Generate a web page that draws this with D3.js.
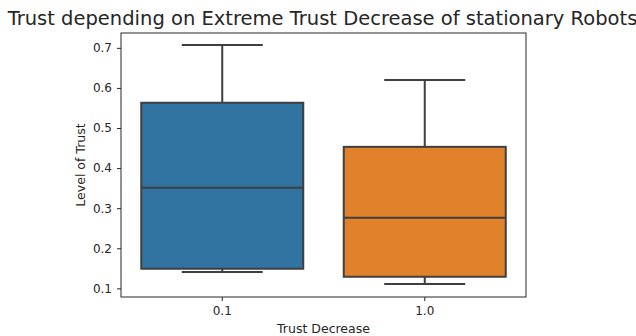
<!DOCTYPE html>
<html>
<head>
<meta charset="utf-8">
<script src="https://cdn.jsdelivr.net/npm/d3@7"></script>
<style>
  body { margin: 0; background: #fff; }
  text { font-family: "DejaVu Sans", sans-serif; fill: #262626; }
</style>
</head>
<body>
<div id="chart"></div>
<script>
// values
const categories = ["0.1", "1.0"];
const whiskerLow = [0.141, 0.111];
const q1 = [0.149, 0.129];
const median = [0.351, 0.276];
const q3 = [0.563, 0.453];
const whiskerHigh = [0.707, 0.620];
const colors = ["#3274a1", "#e1812c"];
const yTicks = [0.1, 0.2, 0.3, 0.4, 0.5, 0.6, 0.7];

const W = 636, H = 336;
const margin = { top: 33, right: 110, bottom: 39, left: 121 };
const width = W - margin.left - margin.right;
const height = H - margin.top - margin.bottom;

const svg = d3.select('#chart').append('svg')
  .attr('width', W).attr('height', H);

const g = svg.append('g')
  .attr('transform', `translate(${margin.left},${margin.top})`);

const x = d3.scaleBand().domain(categories).range([0, width]).paddingInner(0).paddingOuter(0);
const y = d3.scaleLinear().domain([0.0785, 0.737]).range([height, 0]);

const line = '#3f3f3f';
const boxW = x.bandwidth() * 0.8;

categories.forEach((c, i) => {
  const cx = x(c) + x.bandwidth() / 2;
  // whiskers
  g.append('line').attr('x1', cx).attr('x2', cx)
    .attr('y1', y(q3[i])).attr('y2', y(whiskerHigh[i]))
    .attr('stroke', line).attr('stroke-width', 2);
  g.append('line').attr('x1', cx).attr('x2', cx)
    .attr('y1', y(q1[i])).attr('y2', y(whiskerLow[i]))
    .attr('stroke', line).attr('stroke-width', 2);
  // caps
  [whiskerHigh[i], whiskerLow[i]].forEach(v => {
    g.append('line').attr('x1', cx - boxW / 4).attr('x2', cx + boxW / 4)
      .attr('y1', y(v)).attr('y2', y(v))
      .attr('stroke', line).attr('stroke-width', 2);
  });
  // box
  g.append('rect')
    .attr('x', cx - boxW / 2).attr('width', boxW)
    .attr('y', y(q3[i])).attr('height', y(q1[i]) - y(q3[i]))
    .attr('fill', colors[i]).attr('stroke', line).attr('stroke-width', 2);
  // median
  g.append('line').attr('x1', cx - boxW / 2).attr('x2', cx + boxW / 2)
    .attr('y1', y(median[i])).attr('y2', y(median[i]))
    .attr('stroke', line).attr('stroke-width', 2);
});

// frame
g.append('rect').attr('width', width).attr('height', height)
  .attr('fill', 'none').attr('stroke', '#262626').attr('stroke-width', 1);

const xAxis = g.append('g')
  .attr('transform', `translate(0,${height})`)
  .call(d3.axisBottom(x).tickSize(4).tickPadding(5));
const yAxis = g.append('g')
  .call(d3.axisLeft(y).tickValues(yTicks).tickFormat(d3.format('.1f')).tickSize(4).tickPadding(5));

[xAxis, yAxis].forEach(a => {
  a.select('.domain').remove();
  a.selectAll('line').attr('stroke', '#262626');
  a.selectAll('text').style('font-family', '"DejaVu Sans", sans-serif')
    .style('font-size', '12px').attr('fill', '#262626');
});

svg.append('text')
  .attr('x', margin.left + width / 2 - 1).attr('y', 25)
  .attr('text-anchor', 'middle').style('font-size', '19.5px')
  .text('Trust depending on Extreme Trust Decrease of stationary Robots');

svg.append('text')
  .attr('x', margin.left + width / 2).attr('y', 333)
  .attr('text-anchor', 'middle').style('font-size', '12.5px')
  .text('Trust Decrease');

svg.append('text')
  .attr('transform', `translate(85,${margin.top + height / 2}) rotate(-90)`)
  .attr('text-anchor', 'middle').style('font-size', '12.5px')
  .text('Level of Trust');
</script>
</body>
</html>
